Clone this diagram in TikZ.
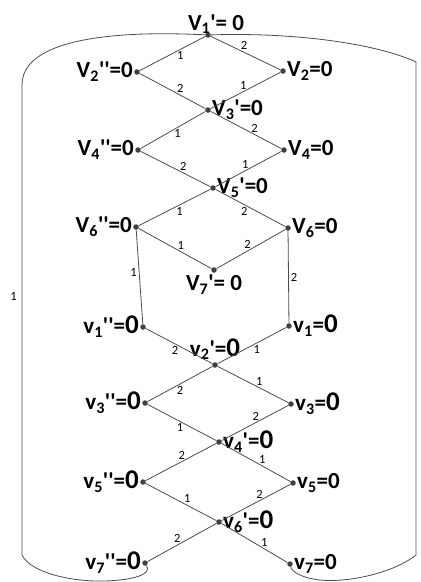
\documentclass[tikz,border=0pt]{standalone}
\usepackage{fontspec}
\newfontfamily\lblfont{Carlito}
\tikzset{
  dot/.style={circle, fill=black!75, inner sep=0pt, minimum size=5.5pt},
  lab/.style={font=\lblfont\bfseries\fontsize{23}{23}\selectfont, inner sep=1pt},
  el/.style={font=\lblfont\fontsize{12.5}{12.5}\selectfont, inner sep=2pt},
  edge/.style={draw=black!70, line width=0.8pt},
}
\newcommand{\bigz}{{\fontsize{27}{27}\selectfont 0}}
\begin{document}
\begin{tikzpicture}[x=1pt, y=-1pt]
  \useasboundingbox (0,0) rectangle (421,582);

  % vertices of the top half
  \node[dot, label={[lab, xshift=8pt, yshift=-3pt]above:V\textsubscript{1}'= 0}] (v1p) at (208,35) {};
  \node[dot, label={[lab]left:V\textsubscript{2}''=0}] (v2pp) at (137,72) {};
  \node[dot, label={[lab]right:V\textsubscript{2}=0}] (v2) at (283,71) {};
  \node[dot, label={[lab]right:V\textsubscript{3}'=0}] (v3p) at (208,110) {};
  \node[dot, label={[lab]left:V\textsubscript{4}''=0}] (v4pp) at (138,150) {};
  \node[dot, label={[lab]right:V\textsubscript{4}=0}] (v4) at (284,150) {};
  \node[dot, label={[lab]right:V\textsubscript{5}'=0}] (v5p) at (213,188) {};
  \node[dot, label={[lab]left:V\textsubscript{6}''=0}] (v6pp) at (136,227) {};
  \node[dot, label={[lab]right:V\textsubscript{6}=0}] (v6) at (288,228) {};
  \node[dot, label={[lab, yshift=-1pt]below:V\textsubscript{7}'= 0}] (v7p) at (214,270) {};

  % vertices of the bottom half
  \node[dot, label={[lab]left:v\textsubscript{1}''=\bigz}] (v1pp) at (143,327) {};
  \node[dot, label={[lab]right:v\textsubscript{1}=\bigz}] (v1) at (289,326) {};
  \node[dot, label={[lab, yshift=1pt]above:v\textsubscript{2}'=\bigz}] (v2p) at (215,365) {};
  \node[dot, label={[lab]left:v\textsubscript{3}''=\bigz}] (v3pp) at (145,403) {};
  \node[dot, label={[lab]right:v\textsubscript{3}=\bigz}] (v3) at (291,404) {};
  \node[dot, label={[lab]right:v\textsubscript{4}'=\bigz}] (v4p) at (219,442) {};
  \node[dot, label={[lab]left:v\textsubscript{5}''=\bigz}] (v5pp) at (143,482) {};
  \node[dot, label={[lab]right:v\textsubscript{5}=0}] (v5) at (293,483) {};
  \node[dot, label={[lab]right:v\textsubscript{6}'=\bigz}] (v6p) at (219,522) {};
  \node[dot, label={[lab]left:v\textsubscript{7}''=\bigz}] (v7pp) at (145,563) {};
  \node[dot, label={[lab]right:v\textsubscript{7}=0}] (v7) at (290,564) {};

  % edges with their weights
  \draw[edge] (v1p) -- node[el, pos=.38, below] {1} (v2pp);
  \draw[edge] (v1p) -- node[el, pos=.48, above] {2} (v2);
  \draw[edge] (v2pp) -- node[el, pos=.62, above] {2} (v3p);
  \draw[edge] (v2) -- node[el, pos=.53, above] {1} (v3p);
  \draw[edge] (v3p) -- node[el, pos=.43, below] {1} (v4pp);
  \draw[edge] (v3p) -- node[el, pos=.62, above] {2} (v4);
  \draw[edge] (v4pp) -- node[el, pos=.61, above] {2} (v5p);
  \draw[edge] (v4) -- node[el, pos=.55, above] {1} (v5p);
  \draw[edge] (v5p) -- node[el, pos=.43, below] {1} (v6pp);
  \draw[edge] (v5p) -- node[el, pos=.41, below] {2} (v6);
  \draw[edge] (v6pp) -- node[el, pos=.58, above] {1} (v7p);
  \draw[edge] (v6) -- node[el, pos=.55, above] {2} (v7p);
  \draw[edge] (v6pp) -- node[el, pos=.45, left] {1} (v1pp);
  \draw[edge] (v6) -- node[el, pos=.5, right] {2} (v1);
  \draw[edge] (v1pp) -- node[el, pos=.44, below] {2} (v2p);
  \draw[edge] (v1) -- node[el, pos=.43, below] {1} (v2p);
  \draw[edge] (v2p) -- node[el, pos=.5, below] {2} (v3pp);
  \draw[edge] (v2p) -- node[el, pos=.59, above] {1} (v3);
  \draw[edge] (v3pp) -- node[el, pos=.47, below] {1} (v4p);
  \draw[edge] (v3) -- node[el, pos=.49, above] {2} (v4p);
  \draw[edge] (v4p) -- node[el, pos=.49, above] {2} (v5pp);
  \draw[edge] (v4p) -- node[el, pos=.59, above] {1} (v5);
  \draw[edge] (v5pp) -- node[el, pos=.59, above] {1} (v6p);
  \draw[edge] (v5) -- node[el, pos=.45, above] {2} (v6p);
  \draw[edge] (v6p) -- node[el, pos=.57, above] {2} (v7pp);
  \draw[edge] (v6p) -- node[el, pos=.65, above] {1} (v7);

  % outer edges round the whole graph
  \draw[edge] (v1p) .. controls (110,30) and (22,40) .. (22,85)
    -- node[el, pos=.45, left=3pt] {1} (22,555)
    .. controls (30,572) and (70,582) .. (105,581)
    .. controls (135,580) and (152,574) .. (v7pp);
  \draw[edge] (v1p) .. controls (300,32) and (380,45) .. (416,62)
    -- (416,555)
    .. controls (395,572) and (350,583) .. (320,580)
    .. controls (302,578) and (292,572) .. (v7);
\end{tikzpicture}
\end{document}
